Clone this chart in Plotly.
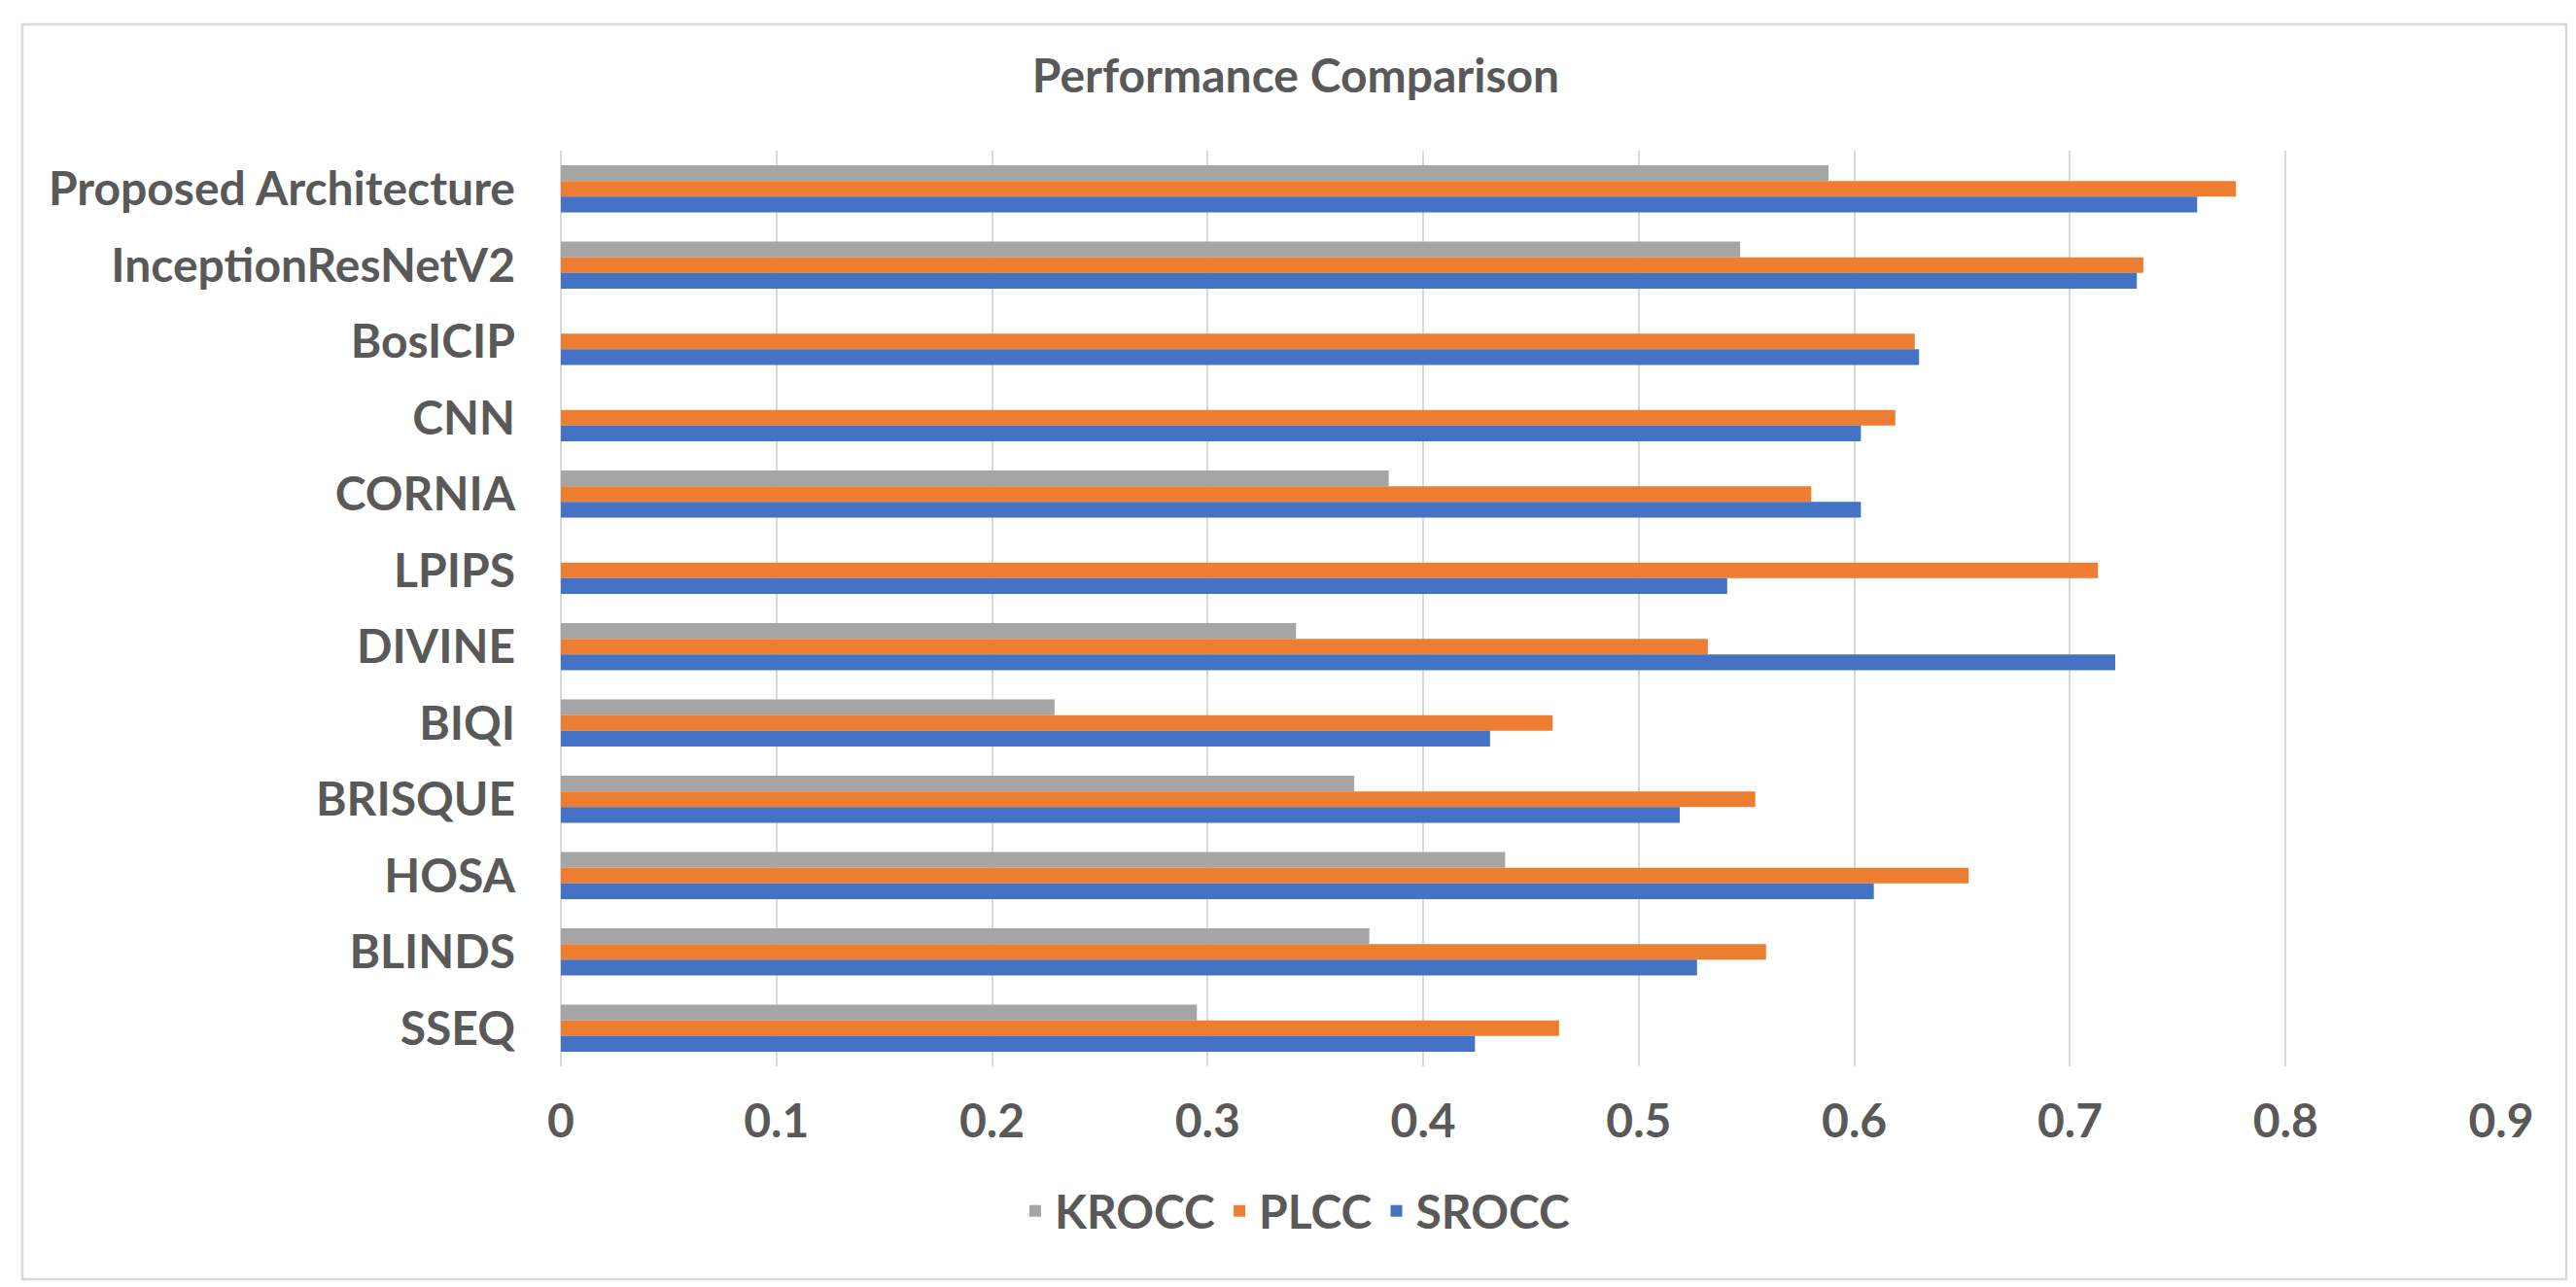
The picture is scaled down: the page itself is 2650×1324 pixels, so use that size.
import plotly.graph_objects as go

# Data (top-to-bottom order as shown in the chart)
categories = [
    "Proposed Architecture", "InceptionResNetV2", "BosICIP", "CNN", "CORNIA",
    "LPIPS", "DIVINE", "BIQI", "BRISQUE", "HOSA", "BLINDS", "SSEQ",
]
krocc = [0.588, 0.547, None, None, 0.384, None, 0.341, 0.229, 0.368, 0.438, 0.375, 0.295]
plcc = [0.777, 0.734, 0.628, 0.619, 0.580, 0.713, 0.532, 0.460, 0.554, 0.653, 0.559, 0.463]
srocc = [0.759, 0.731, 0.630, 0.603, 0.603, 0.541, 0.721, 0.431, 0.519, 0.609, 0.527, 0.424]
x_ticks = [0, 0.1, 0.2, 0.3, 0.4, 0.5, 0.6, 0.7, 0.8, 0.9]
x_tick_text = ["0", "0.1", "0.2", "0.3", "0.4", "0.5", "0.6", "0.7", "0.8", "0.9"]

series = [
    ("KROCC", krocc, "#A5A5A5"),
    ("PLCC", plcc, "#ED7D31"),
    ("SROCC", srocc, "#4472C4"),
]

TEXT = "#595959"
FONT = "Lato"
FS = 48

fig = go.Figure()
for name, vals, color in series:
    fig.add_trace(go.Bar(
        y=categories, x=vals, name=name, orientation="h",
        marker=dict(color=color, line=dict(width=0)),
    ))

W, H = 2650, 1324
L, R, T, B = 569, 85, 147, 235
plot_w = W - L - R
plot_h = H - T - B

def px_x(p):
    return (p - L) / plot_w

def px_y(p):
    return (H - B - p) / plot_h

fig.update_layout(
    width=W, height=H,
    margin=dict(l=L, r=R, t=T, b=B, autoexpand=False),
    paper_bgcolor="white", plot_bgcolor="white",
    barmode="group", bargap=0.385, bargroupgap=0.0,
    title=dict(
        text="Performance Comparison", x=0.5, xref="container", xanchor="center",
        y=1 - 70 / H, yref="container", yanchor="middle",
        font=dict(family=FONT, size=FS, color=TEXT, weight="bold"),
    ),
    font=dict(family=FONT, size=FS, color=TEXT, weight="bold"),
    legend=dict(
        orientation="h", x=0.5, xref="container", xanchor="center",
        y=1 - 1238 / H, yref="container", yanchor="middle",
        font=dict(family=FONT, size=FS, color=TEXT, weight="bold"),
        traceorder="normal", itemwidth=30,
    ),
    xaxis=dict(
        range=[0, 0.9], tickvals=x_ticks, ticktext=x_tick_text,
        showgrid=True, gridcolor="#D9D9D9", gridwidth=2,
        zeroline=True, zerolinecolor="#D9D9D9", zerolinewidth=2,
        showline=False, ticks="", ticklabelstandoff=24,
        tickfont=dict(family=FONT, size=FS, color=TEXT, weight="bold"),
        automargin=False, fixedrange=True,
    ),
    yaxis=dict(
        autorange="reversed", type="category",
        showgrid=False, zeroline=False, showline=False, ticks="",
        ticklabelstandoff=46,
        tickfont=dict(family=FONT, size=FS, color=TEXT, weight="bold"),
        automargin=False, fixedrange=True,
    ),
    shapes=[dict(
        type="rect", xref="paper", yref="paper",
        x0=px_x(15), x1=px_x(2632), y0=px_y(1308), y1=px_y(17),
        line=dict(color="#D9D9D9", width=2.5), fillcolor="rgba(0,0,0,0)",
        layer="below",
    )],
)

fig.write_html("out.html")
